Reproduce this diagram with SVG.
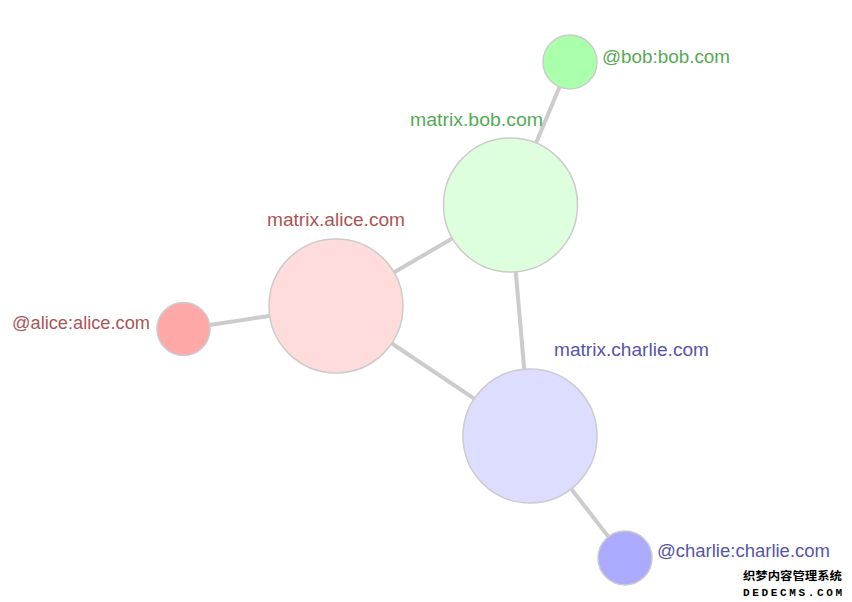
<svg xmlns="http://www.w3.org/2000/svg" width="852" height="602" viewBox="0 0 852 602">
<style>
.link{stroke:#cccccc;stroke-width:4;fill:none}
.node{stroke:#cccccc;stroke-width:1.5}
.lbl{font-family:"Liberation Sans",Arial,Helvetica,sans-serif;font-size:18.7px}
.a{fill:#aa5555}.b{fill:#55aa55}.c{fill:#5555aa}
.wm{font-weight:bold;fill:#000}
</style>
<rect width="852" height="602" fill="#ffffff"/>
<g id="connectors">
<line class="link" x1="183" y1="329" x2="336" y2="306"/>
<line class="link" x1="336" y1="306" x2="510" y2="205"/>
<line class="link" x1="336" y1="306" x2="530" y2="436"/>
<line class="link" x1="510" y1="205" x2="530" y2="436"/>
<line class="link" x1="510" y1="205" x2="570" y2="62"/>
<line class="link" x1="530" y1="436" x2="625" y2="558"/>
</g>
<g id="alice-user">
<circle class="node" cx="183.5" cy="329" r="26.5" fill="#ffa8a8"/>
<text class="lbl a" x="12" y="329" textLength="138" lengthAdjust="spacingAndGlyphs">@alice:alice.com</text>
</g>
<g id="alice-server">
<circle class="node" cx="336" cy="306" r="67" fill="#ffdcdc"/>
<text class="lbl a" x="267" y="226" textLength="138" lengthAdjust="spacingAndGlyphs">matrix.alice.com</text>
</g>
<g id="bob-server">
<circle class="node" cx="510.5" cy="205" r="67" fill="#ddffdd"/>
<text class="lbl b" x="410" y="126" textLength="133" lengthAdjust="spacingAndGlyphs">matrix.bob.com</text>
</g>
<g id="bob-user">
<circle class="node" cx="570" cy="62" r="27" fill="#aaffaa"/>
<text class="lbl b" x="602" y="63" textLength="128" lengthAdjust="spacingAndGlyphs">@bob:bob.com</text>
</g>
<g id="charlie-server">
<circle class="node" cx="530" cy="436" r="67" fill="#ddddff"/>
<text class="lbl c" x="554" y="356" textLength="155" lengthAdjust="spacingAndGlyphs">matrix.charlie.com</text>
</g>
<g id="charlie-user">
<circle class="node" cx="625" cy="558" r="27" fill="#aaaaff"/>
<text class="lbl c" x="657" y="557" textLength="173" lengthAdjust="spacingAndGlyphs">@charlie:charlie.com</text>
</g>
<g id="watermark">
<text class="wm" x="743" y="580" font-size="11.5" font-family="Noto Sans CJK SC,sans-serif" textLength="99" lengthAdjust="spacingAndGlyphs">织梦内容管理系统</text>
<text class="wm" x="743" y="596" font-size="11" font-family="Liberation Mono,monospace" textLength="99" lengthAdjust="spacing">DEDECMS.COM</text>
</g>
</svg>
